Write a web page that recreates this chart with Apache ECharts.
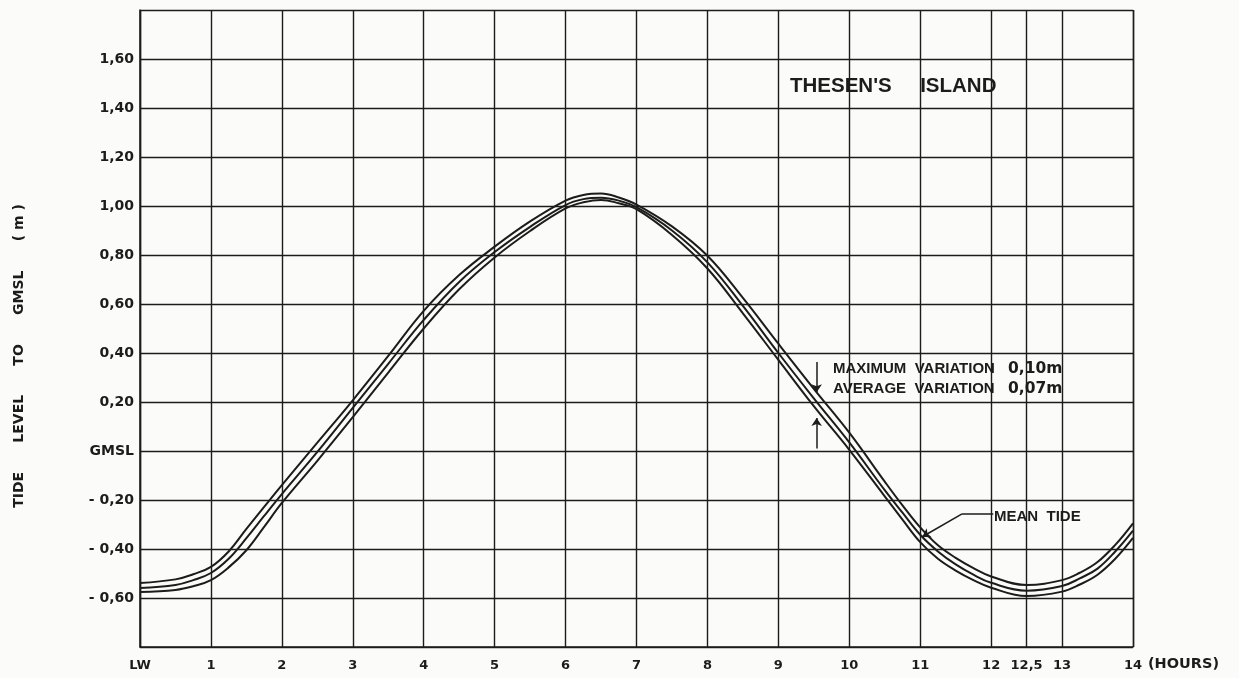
<!DOCTYPE html>
<html>
<head>
<meta charset="utf-8">
<script src="https://cdn.jsdelivr.net/npm/echarts/dist/echarts.min.js"></script>
<style>
html,body{margin:0;padding:0;background:#fbfbfa;}
#chart{width:1239px;height:678px;}
</style>
</head>
<body>
<div id="chart"></div>
<script>
// ---- data (hours after low water, tide level in metres relative to GMSL) ----
const hours     = [0,     0.5,   0.75,  1,     1.25,  1.5,   1.75,  2,     2.5,   3,    3.5,  4,    4.5,  5,    5.5,  6,    6.25, 6.5,  6.75, 7,    7.5,  8,    8.5,  9,    9.5,  10,   10.5,  10.75, 11,    11.25, 11.5,  11.75, 12,    12.5,  13,    13.25, 13.5,  13.75, 14];
const upperTide = [-0.539,-0.524,-0.503,-0.473,-0.410,-0.318,-0.228,-0.139,0.034, 0.207,0.388,0.572,0.718,0.834,0.937,1.022,1.045,1.051,1.035,1.006,0.917,0.797,0.625,0.438,0.254,0.075,-0.125,-0.222,-0.312,-0.385,-0.436,-0.478,-0.512,-0.547,-0.527,-0.497,-0.453,-0.383,-0.295];
const meanTide  = [-0.559,-0.547,-0.527,-0.498,-0.440,-0.356,-0.265,-0.176,-0.004,0.176,0.356,0.535,0.690,0.812,0.915,1.004,1.028,1.034,1.022,0.995,0.900,0.770,0.592,0.400,0.215,0.035,-0.160,-0.252,-0.342,-0.410,-0.463,-0.505,-0.538,-0.570,-0.551,-0.520,-0.480,-0.410,-0.325];
const lowerTide = [-0.576,-0.567,-0.552,-0.527,-0.475,-0.405,-0.310,-0.212,-0.040,0.138,0.320,0.500,0.660,0.790,0.898,0.990,1.015,1.025,1.011,0.987,0.882,0.745,0.562,0.372,0.183,0.005,-0.185,-0.280,-0.372,-0.440,-0.488,-0.527,-0.558,-0.592,-0.574,-0.545,-0.505,-0.440,-0.355];
const xTickExtra = 12.5;       // extra vertical grid line / label
const xFirstLabel = 'LW';
const xAxisUnit = '(HOURS)';
const zeroLabel = 'GMSL';
const yAxisTitle = 'TIDE      LEVEL      TO      GMSL      ( m )';
const chartTitle = "THESEN'S     ISLAND";

const INK = '#1c1c1c';
const NUMFONT = 'DejaVu Sans';
const TXTFONT = 'Liberation Sans';

function pairs(ys){ return hours.map((h,i)=>[h, ys[i]]); }
function fmtY(v){
  if (Math.abs(v) < 1e-9) return zeroLabel;
  if (Math.abs(v - (-0.8)) < 1e-9 || Math.abs(v - 1.8) < 1e-9) return '';
  const s = Math.abs(v).toFixed(2).replace('.', ',');
  return v < 0 ? '- ' + s : s;
}

const lineStyle = {color: INK, width: 2};
const chart = echarts.init(document.getElementById('chart'), null, {renderer:'canvas'});

chart.setOption({
  backgroundColor: '#fbfbfa',
  animation: false,
  title: {
    text: chartTitle, left: 790, top: 76, padding: 0,
    textStyle: {fontFamily: TXTFONT, fontWeight: 'bold', fontSize: 20.5, color: INK}
  },
  grid: {left: 140, right: 106, top: 10, bottom: 31, containLabel: false},
  xAxis: [{
    type: 'value', min: 0, max: 14, interval: 1,
    axisLine: {show: true, onZero: false, lineStyle: {color: INK, width: 1.5}},
    axisTick: {show: false},
    splitLine: {show: true, lineStyle: {color: INK, width: 1.4}},
    axisLabel: {
      margin: 12, color: INK, fontFamily: NUMFONT, fontWeight: 'bold', fontSize: 13,
      formatter: v => v === 0 ? xFirstLabel : String(v)
    },
    name: xAxisUnit, nameLocation: 'end', nameGap: 14,
    nameTextStyle: {fontFamily: NUMFONT, fontWeight: 'bold', fontSize: 14.5, color: INK,
                    align: 'left', verticalAlign: 'top', padding: [10,0,0,0]}
  },{
    type: 'value', min: 0, max: 14, interval: xTickExtra, position: 'bottom',
    axisLine: {show: false}, axisTick: {show: false},
    splitLine: {show: true, lineStyle: {color: INK, width: 1.4}},
    axisLabel: {
      margin: 12, color: INK, fontFamily: NUMFONT, fontWeight: 'bold', fontSize: 13,
      formatter: v => Math.abs(v - xTickExtra) < 1e-9 ? String(xTickExtra).replace('.', ',') : ''
    }
  }],
  yAxis: {
    type: 'value', min: -0.8, max: 1.8, interval: 0.2,
    axisLine: {show: true, onZero: false, lineStyle: {color: INK, width: 1.5}},
    axisTick: {show: false},
    splitLine: {show: true, lineStyle: {color: INK, width: 1.4}},
    axisLabel: {margin: 6, color: INK, fontFamily: NUMFONT, fontWeight: 'bold', fontSize: 14, formatter: fmtY},
    name: yAxisTitle, nameLocation: 'middle', nameGap: 114, nameRotate: 90,
    nameTextStyle: {fontFamily: NUMFONT, fontWeight: 'bold', fontSize: 14, color: INK, padding: [0,55,0,0]}
  },
  series: [
    {type: 'line', name: 'upper', data: pairs(upperTide), symbol: 'none', smooth: 0.4, lineStyle, silent: true},
    {type: 'line', name: 'mean', data: pairs(meanTide), symbol: 'none', smooth: 0.4, lineStyle, silent: true,
     markLine: {
       silent: true, symbol: ['none','none'], symbolSize: 8, precision: 3,
       label: {show: false},
       lineStyle: {color: INK, width: 1.5, type: 'solid'},
       data: [
         [{coord: [9.54, 0.363]}, {coord: [9.54, 0.240], symbol: 'arrow'}],
         [{coord: [9.54, 0.010]}, {coord: [9.54, 0.135], symbol: 'arrow'}],
         [{coord: [12.03, -0.257]}, {coord: [11.59, -0.257]}],
         [{coord: [11.59, -0.257]}, {coord: [11.03, -0.350], symbol: 'arrow'}]
       ]
     }},
    {type: 'line', name: 'lower', data: pairs(lowerTide), symbol: 'none', smooth: 0.4, lineStyle, silent: true}
  ],
  graphic: [
    {type: 'text', x: 833, y: 369, style: {text: 'MAXIMUM  VARIATION', fill: INK, font: 'bold 15px "Liberation Sans"', verticalAlign: 'middle'}},
    {type: 'text', x: 1008, y: 369, style: {text: '0,10m', fill: INK, font: 'bold 15.5px "DejaVu Sans"', verticalAlign: 'middle'}},
    {type: 'text', x: 833, y: 389, style: {text: 'AVERAGE  VARIATION', fill: INK, font: 'bold 15px "Liberation Sans"', verticalAlign: 'middle'}},
    {type: 'text', x: 1008, y: 389, style: {text: '0,07m', fill: INK, font: 'bold 15.5px "DejaVu Sans"', verticalAlign: 'middle'}},
    {type: 'text', x: 994, y: 517, style: {text: 'MEAN  TIDE', fill: INK, font: 'bold 15px "Liberation Sans"', verticalAlign: 'middle'}}
  ]
});
</script>
</body>
</html>
